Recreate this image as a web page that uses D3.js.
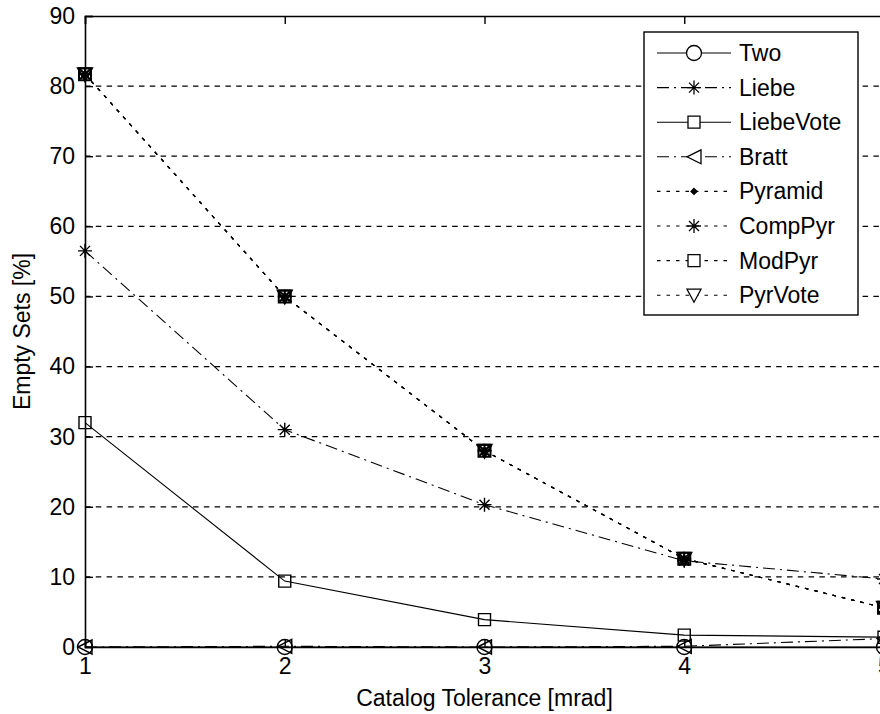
<!DOCTYPE html>
<html>
<head>
<meta charset="utf-8">
<script src="https://cdn.jsdelivr.net/npm/d3@7"></script>
<style>
  html, body { margin: 0; padding: 0; background: #fff; }
  svg text { font-family: "Liberation Sans", Arial, sans-serif; fill: #000; }
</style>
</head>
<body>
<div id="main"></div>
<script>
// valores
const tolerance = [1, 2, 3, 4, 5];
const yTicks = [0, 10, 20, 30, 40, 50, 60, 70, 80, 90];
const two       = [0, 0, 0, 0, 0];
const liebe     = [56.5, 31, 20.3, 12.3, 9.7];
const liebeVote = [32, 9.4, 3.9, 1.7, 1.4];
const bratt     = [0, 0.1, 0, 0.1, 1.2];
const pyramid   = [81.7, 50, 28, 12.6, 5.6];
const compPyr   = [81.7, 50, 28, 12.6, 5.6];
const modPyr    = [81.7, 50, 28, 12.6, 5.6];
const pyrVote   = [81.7, 50, 28, 12.6, 5.6];

const seriesNames = ['Two', 'Liebe', 'LiebeVote', 'Bratt', 'Pyramid', 'CompPyr', 'ModPyr', 'PyrVote'];
const seriesValues = [two, liebe, liebeVote, bratt, pyramid, compPyr, modPyr, pyrVote];
const seriesMarkers = ['circle', 'asterisk', 'square', 'triLeft', 'dot', 'asterisk', 'square', 'triDown'];
const seriesStyles = ['solid', 'dashdot', 'solid', 'dashdot', 'dotted', 'dotted', 'dotted', 'dotted'];

const chartWidth = 880, chartHeight = 714;
const plotLeft = 85, plotRight = 884, plotTop = 16, plotBottom = 647;
const dashes = { solid: null, dashdot: '12,5,2,5', dotted: '3.5,6' };

const svg = d3.select('#main').append('svg')
    .attr('width', chartWidth)
    .attr('height', chartHeight);

const xScale = d3.scaleLinear().domain([1, 5]).range([plotLeft, plotRight]);
const yScale = d3.scaleLinear().domain([0, 90]).range([plotBottom, plotTop]);

// grade pontilhada
svg.append('g')
    .selectAll('line')
    .data(yTicks.filter(d => d > 0 && d < 90))
    .enter()
    .append('line')
    .attr('x1', plotLeft).attr('x2', plotRight)
    .attr('y1', d => yScale(d)).attr('y2', d => yScale(d))
    .attr('stroke', '#000')
    .attr('stroke-width', 1.2)
    .attr('stroke-dasharray', '5.5,5.3');

// eixos (caixa com ticks para dentro)
const xAxis = d3.axisBottom(xScale).tickValues(tolerance).tickSize(-8).tickPadding(11).tickFormat(d3.format('d'));
const yAxis = d3.axisLeft(yScale).tickValues(yTicks).tickSize(-8).tickPadding(10);
const gx = svg.append('g').attr('transform', `translate(0,${plotBottom})`).call(xAxis);
const gy = svg.append('g').attr('transform', `translate(${plotLeft},0)`).call(yAxis);
svg.append('g').attr('transform', `translate(0,${plotTop})`)
    .call(d3.axisTop(xScale).tickValues(tolerance).tickSize(-8).tickFormat(''));
[gx, gy].forEach(g => {
    g.selectAll('text').style('font-size', '23px').style('font-family', '"Liberation Sans", Arial, sans-serif');
});
svg.selectAll('.domain').attr('stroke', '#000').attr('stroke-width', 1.6);
svg.selectAll('.tick line').attr('stroke', '#000').attr('stroke-width', 1.4);

// marcadores
function markerPath(type) {
    const p = d3.path();
    if (type === 'circle') {
        p.moveTo(7.5, 0); p.arc(0, 0, 7.5, 0, 2 * Math.PI);
    } else if (type === 'square') {
        p.rect(-6, -6, 12, 12);
    } else if (type === 'asterisk') {
        p.moveTo(-7, 0); p.lineTo(7, 0);
        p.moveTo(0, -7); p.lineTo(0, 7);
        p.moveTo(-5, -5); p.lineTo(5, 5);
        p.moveTo(-5, 5); p.lineTo(5, -5);
    } else if (type === 'triLeft') {
        p.moveTo(-7, 0); p.lineTo(7, -7); p.lineTo(7, 7); p.closePath();
    } else if (type === 'triDown') {
        p.moveTo(-7, -6); p.lineTo(7, -6); p.lineTo(0, 7); p.closePath();
    } else if (type === 'dot') {
        p.moveTo(0, -3); p.lineTo(3, 0); p.lineTo(0, 3); p.lineTo(-3, 0); p.closePath();
    }
    return p.toString();
}

const line = d3.line()
    .x((d, i) => xScale(tolerance[i]))
    .y(d => yScale(d));

seriesValues.forEach((vals, k) => {
    svg.append('path')
        .datum(vals)
        .attr('fill', 'none')
        .attr('stroke', '#000')
        .attr('stroke-width', 1.1)
        .attr('stroke-dasharray', dashes[seriesStyles[k]])
        .attr('d', line);
});

seriesValues.forEach((vals, k) => {
    const m = seriesMarkers[k];
    svg.append('g')
        .selectAll('path')
        .data(vals)
        .enter()
        .append('path')
        .attr('transform', (d, i) => `translate(${xScale(tolerance[i])},${yScale(d)})`)
        .attr('d', markerPath(m))
        .attr('fill', m === 'dot' ? '#000' : 'none')
        .attr('stroke', '#000')
        .attr('stroke-width', seriesStyles[k] === 'dotted' ? 2 : 1.4);
});

// rótulos dos eixos
svg.append('text')
    .attr('x', (plotLeft + plotRight) / 2)
    .attr('y', 706)
    .attr('text-anchor', 'middle')
    .style('font-size', '23px')
    .text('Catalog Tolerance [mrad]');

svg.append('text')
    .attr('transform', `translate(30,${(plotTop + plotBottom) / 2}) rotate(-90)`)
    .attr('text-anchor', 'middle')
    .style('font-size', '23px')
    .text('Empty Sets [%]');

// legenda
const legend = svg.append('g');
legend.append('rect')
    .attr('x', 644).attr('y', 32)
    .attr('width', 214).attr('height', 283)
    .attr('fill', '#fff')
    .attr('stroke', '#000')
    .attr('stroke-width', 1.4);

seriesNames.forEach((name, k) => {
    const cy = 53 + k * 34.6;
    legend.append('line')
        .attr('x1', 657).attr('x2', 731)
        .attr('y1', cy).attr('y2', cy)
        .attr('stroke', '#000')
        .attr('stroke-width', 1.1)
        .attr('stroke-dasharray', dashes[seriesStyles[k]]);
    legend.append('path')
        .attr('transform', `translate(694,${cy})`)
        .attr('d', markerPath(seriesMarkers[k]))
        .attr('fill', seriesMarkers[k] === 'dot' ? '#000' : '#fff')
        .attr('stroke', '#000')
        .attr('stroke-width', 1.3);
    legend.append('text')
        .attr('x', 739)
        .attr('y', cy + 8)
        .style('font-size', '23px')
        .text(name);
});
</script>
</body>
</html>
